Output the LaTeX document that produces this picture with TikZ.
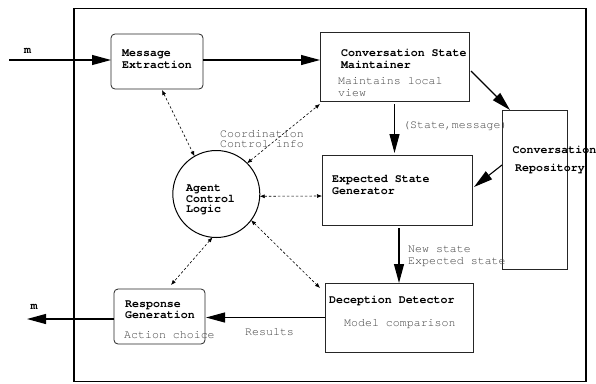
\documentclass[tikz,border=0pt]{standalone}
\usepackage{fontspec}
\newfontfamily\cour{TeX Gyre Cursor}
\usetikzlibrary{arrows.meta}
\definecolor{txtgray}{HTML}{404040}
\tikzset{
  lbl/.style={anchor=base west,inner sep=0pt,font=\cour\bfseries\fontsize{11.6}{12}\selectfont},
  glbl/.style={anchor=base west,inner sep=0pt,text=txtgray,font=\cour\fontsize{11.6}{12}\selectfont},
  box/.style={draw=black!85,line width=0.8pt,inner sep=0pt,outer sep=0pt},
  rbox/.style={box,rounded corners=4pt},
  flow/.style={line width=1.1pt,-{Triangle[length=19pt,width=10pt]}},
  ctrl/.style={line width=0.6pt,dash pattern=on 2.5pt off 2pt,{Latex[length=5pt,width=4pt]}-{Latex[length=5pt,width=4pt]}}
}
\begin{document}
\begin{tikzpicture}[x=1pt,y=-1pt]
\useasboundingbox (0,0) rectangle (596,383);
% frame
\node[draw,line width=1.6pt,minimum width=512pt,minimum height=373pt,inner sep=0pt] (frame) at (330,195) {};
% boxes
\node[rbox,minimum width=92pt,minimum height=55pt] (me) at (157,61.5) {};
\node[box,minimum width=149pt,minimum height=69pt] (csm) at (394.5,66.5) {};
\node[box,minimum width=65pt,minimum height=159pt] (rep) at (534.5,189.5) {};
\node[box,minimum width=150pt,minimum height=70pt] (esg) at (397,190) {};
\node[box,minimum width=148pt,minimum height=69pt] (dd) at (399,317.5) {};
\node[rbox,minimum width=91pt,minimum height=55pt] (rg) at (159.5,316.5) {};
\node[draw,circle,line width=1pt,minimum size=87pt,inner sep=0pt,outer sep=0pt] (acl) at (216.3,194) {};
% texts
\node[lbl] (meA) at (122,56) {Message};
\node[lbl] (meB) at (122,68) {Extraction};
\node[lbl] (csmA) at (341,56.5) {Conversation State};
\node[lbl] (csmB) at (341,68.5) {Maintainer};
\node[glbl] (csmC) at (338,84) {Maintains local};
\node[glbl] (csmD) at (338,96) {view};
\node[lbl] (repA) at (512.5,153) {Conversation};
\node[lbl] (repB) at (515,171.5) {Repository};
\node[lbl] (esgA) at (332,182) {Expected State};
\node[lbl] (esgB) at (332,194) {Generator};
\node[lbl] (ddA) at (329,303.5) {Deception Detector};
\node[glbl] (ddB) at (344,326) {Model comparison};
\node[lbl] (rgA) at (125,307) {Response};
\node[lbl] (rgB) at (125,318.5) {Generation};
\node[glbl] (rgC) at (124,338.5) {Action choice};
\node[lbl] (aclA) at (186,191) {Agent};
\node[lbl] (aclB) at (186,202) {Control};
\node[lbl] (aclC) at (186,212.5) {Logic};
\node[glbl] (coA) at (220,137.5) {Coordination};
\node[glbl] (coB) at (220,147.5) {Control info};
\node[glbl] (smL) at (403,128.5) {(State,message)};
\node[glbl] (nsA) at (408,252) {New state};
\node[glbl] (nsB) at (408,264) {Expected state};
\node[glbl] (resL) at (245,335) {Results};
\node[lbl] (mIn) at (24,53.3) {m};
\node[lbl] (mOut) at (30.5,309) {m};
% solid flows
\coordinate (inS) at (9,60);
\coordinate (outE) at (27,319);
\draw[flow] (inS) -- (inS -| me.west);
\draw[flow] (me.east |- inS) -- (csm.west |- inS);
\draw[flow] ([xshift=2pt,yshift=-4.5pt]csm.east) -- ([xshift=8pt]rep.north west);
\draw[flow] ([yshift=24.5pt]rep.west) -- ([xshift=2pt,yshift=3pt]esg.east);
\coordinate (c1) at (csm.south |- esg.north);
\draw[flow] ([yshift=-3pt]csm.south) -- ([yshift=2pt]c1);
\coordinate (c2) at (dd.north |- esg.south);
\draw[flow] ([yshift=-3pt]c2) -- (dd.north);
\draw[flow] (dd.west) -- ([xshift=1pt]rg.east |- dd.west);
\draw[flow] ([yshift=-2.5pt]rg.west) -- (outE);
% control links
\draw[ctrl] ([xshift=5pt,yshift=-1pt]me.south) -- (acl.120);
\draw[ctrl] (acl.45) -- ([yshift=-3pt]csm.south west);
\draw[ctrl] (acl.-3) -- ([yshift=-6pt]esg.west);
\draw[ctrl] (acl.-95) -- ([xshift=11.5pt,yshift=4pt]rg.north);
\draw[ctrl] (acl.-37) -- ([xshift=-5pt,yshift=-5pt]dd.north west);
\end{tikzpicture}
\end{document}
